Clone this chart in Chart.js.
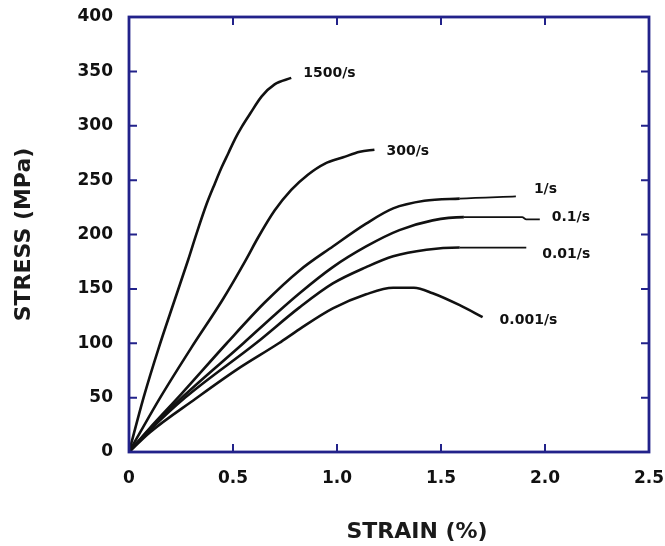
<!DOCTYPE html>
<html>
<head>
<meta charset="utf-8">
<script src="https://cdn.jsdelivr.net/npm/chart.js@4.4.1/dist/chart.umd.min.js"></script>
<style>
  body { margin: 0; background: #fff; }
  #wrap { width: 665px; height: 546px; }
</style>
</head>
<body>
<div id="wrap"><canvas id="stress_chart" width="665" height="546"></canvas></div>
<script>
// strain in %, stress in MPa
const rateLabels = ['1500/s', '300/s', '1/s', '0.1/s', '0.01/s', '0.001/s'];

const strain1500 = [0, 0.07, 0.14, 0.22, 0.285, 0.325, 0.373, 0.413, 0.446, 0.478, 0.51, 0.542, 0.582, 0.638, 0.70, 0.78];
const stress1500 = [0, 50, 94, 140, 177, 201, 228, 247, 262, 275, 288, 299, 311, 327, 338, 344];

const strain300 = [0, 0.15, 0.30, 0.45, 0.56, 0.62, 0.70, 0.78, 0.86, 0.94, 1.03, 1.11, 1.18];
const stress300 = [0, 50, 96, 140, 176, 197, 222, 241, 255, 265, 271, 276, 278];

const strain1 = [0, 0.10, 0.25, 0.47, 0.65, 0.82, 0.98, 1.14, 1.27, 1.42, 1.59, 1.86];
const stress1 = [0, 22, 53, 100, 137, 167, 189, 210, 224, 231, 233, 235];

const strain01 = [0, 0.10, 0.26, 0.55, 0.70, 0.82, 0.98, 1.14, 1.30, 1.46, 1.61, 1.89, 1.91, 1.975];
const stress01 = [0, 21, 51, 100, 126, 146, 170, 189, 204, 213, 216, 216, 214, 214];

const strain001 = [0, 0.10, 0.27, 0.61, 0.82, 0.98, 1.14, 1.27, 1.43, 1.59, 1.91];
const stress001 = [0, 20, 50, 100, 133, 155, 170, 180, 186, 188, 188];

const strain0001 = [0, 0.10, 0.32, 0.52, 0.72, 0.82, 0.98, 1.14, 1.27, 1.37, 1.46, 1.59, 1.70];
const stress0001 = [0, 18, 49, 76, 100, 113, 132, 145, 151, 151, 146, 135, 124];

const strainTicks = [0, 0.5, 1, 1.5, 2, 2.5];
const stressTicks = [0, 50, 100, 150, 200, 250, 300, 350, 400];

// where each rate label sits relative to the end of its curve (px)
const labelOffsets = [[12, -5], [12, 2], [18, -7], [12, -2], [16, 7], [17, 3]];

const frameColor = '#22228a';
const fontFamily = '"DejaVu Sans", sans-serif';

function toPoints(xs, ys) {
    return xs.map((x, i) => ({ x: x, y: ys[i] }));
}

// the flat tails past the peak are drawn thinner in the original
function segWidth(ctx) {
    const a = ctx.p0.parsed, b = ctx.p1.parsed;
    return (a.x >= 1.55 && Math.abs(b.y - a.y) <= 3) ? 1.8 : 2.6;
}

function curve(label, xs, ys) {
    return {
        label: label,
        data: toPoints(xs, ys),
        borderColor: '#111',
        borderWidth: 2.6,
        pointRadius: 0,
        fill: false,
        cubicInterpolationMode: 'monotone',
        segment: { borderWidth: segWidth },
    };
}

const framePlugin = {
    id: 'frame',
    afterDatasetsDraw(chart) {
        const { ctx, chartArea: a, scales } = chart;
        const len = 8;
        ctx.save();
        ctx.strokeStyle = frameColor;
        ctx.lineWidth = 2;
        scales.x.ticks.forEach(t => {
            const px = scales.x.getPixelForValue(t.value);
            if (px <= a.left + 1 || px >= a.right - 1) return;
            ctx.beginPath();
            ctx.moveTo(px, a.bottom); ctx.lineTo(px, a.bottom - len);
            ctx.moveTo(px, a.top); ctx.lineTo(px, a.top + len);
            ctx.stroke();
        });
        scales.y.ticks.forEach(t => {
            const py = scales.y.getPixelForValue(t.value);
            if (py <= a.top + 1 || py >= a.bottom - 1) return;
            ctx.beginPath();
            ctx.moveTo(a.left, py); ctx.lineTo(a.left + len, py);
            ctx.moveTo(a.right, py); ctx.lineTo(a.right - len, py);
            ctx.stroke();
        });
        ctx.lineWidth = 2.8;
        ctx.strokeRect(a.left, a.top, a.right - a.left, a.bottom - a.top);

        // rate labels at the end of each curve
        ctx.fillStyle = '#111';
        ctx.font = 'bold 14px ' + fontFamily;
        ctx.textAlign = 'left';
        ctx.textBaseline = 'middle';
        chart.data.datasets.forEach((ds, i) => {
            const pts = chart.getDatasetMeta(i).data;
            const last = pts[pts.length - 1];
            ctx.fillText(ds.label, last.x + labelOffsets[i][0], last.y + labelOffsets[i][1]);
        });

        // axis titles
        ctx.fillStyle = '#1a1a1a';
        ctx.font = 'bold 22px ' + fontFamily;
        ctx.textAlign = 'center';
        ctx.fillText('STRAIN (%)', (a.left + a.right) / 2 + 28, a.bottom + 80);
        ctx.translate(24, (a.top + a.bottom) / 2);
        ctx.rotate(-Math.PI / 2);
        ctx.fillText('STRESS (MPa)', 0, 0);
        ctx.restore();
    }
};

const ctxEl = document.getElementById('stress_chart');
const stress_chart = new Chart(ctxEl, {
    type: 'line',
    data: {
        datasets: [
            curve(rateLabels[0], strain1500, stress1500),
            curve(rateLabels[1], strain300, stress300),
            curve(rateLabels[2], strain1, stress1),
            curve(rateLabels[3], strain01, stress01),
            curve(rateLabels[4], strain001, stress001),
            curve(rateLabels[5], strain0001, stress0001),
        ],
    },
    options: {
        responsive: false,
        animation: false,
        layout: { padding: { top: 17, right: 16, bottom: 0, left: 0 } },
        plugins: { legend: { display: false }, tooltip: { enabled: false } },
        scales: {
            x: {
                type: 'linear',
                min: 0,
                max: 2.5,
                grid: { display: false, drawTicks: false },
                border: { display: false },
                afterBuildTicks: s => { s.ticks = strainTicks.map(v => ({ value: v })); },
                ticks: {
                    padding: 16,
                    color: '#111',
                    font: { family: fontFamily, size: 17, weight: 'bold' },
                    maxRotation: 0,
                },
                afterFit: s => {
                    s.height = 94;
                    s.paddingLeft = 0; s.paddingRight = 0;
                },
            },
            y: {
                type: 'linear',
                min: 0,
                max: 400,
                grid: { display: false, drawTicks: false },
                border: { display: false },
                afterBuildTicks: s => { s.ticks = stressTicks.map(v => ({ value: v })); },
                ticks: {
                    padding: 16,
                    color: '#111',
                    font: { family: fontFamily, size: 17, weight: 'bold' },
                },
                afterFit: s => {
                    s.width = 129;
                    s.paddingTop = 0; s.paddingBottom = 0;
                },
            },
        },
    },
    plugins: [framePlugin],
});
</script>
</body>
</html>
